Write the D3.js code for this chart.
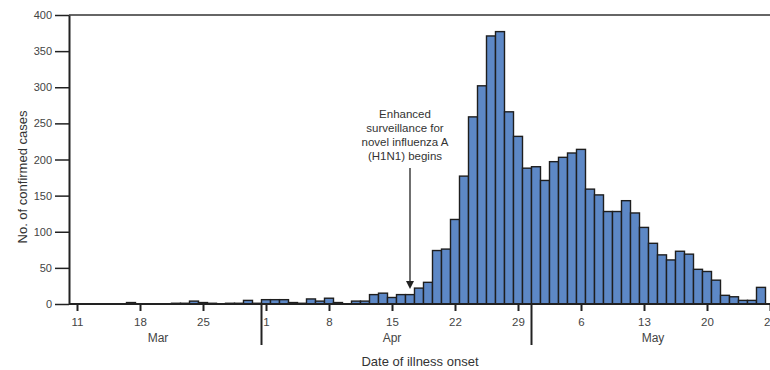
<!DOCTYPE html>
<html>
<head>
<meta charset="utf-8">
<script src="https://cdn.jsdelivr.net/npm/d3@7"></script>
<style>
  body { margin: 0; background: #fff; }
  svg { display: block; font-family: "Liberation Sans", Arial, Helvetica, sans-serif; }
</style>
</head>
<body>
<svg id="chart" width="770" height="370"></svg>
<script>
// confirmed cases by date of illness onset, 2009
const marchCases = [0, 0, 0, 0, 0, 0, 2, 0, 0, 0, 0, 1, 1, 4, 2, 1, 0, 1, 1, 5, 1]; // Mar 11-31
const aprilCases = [6, 6, 6, 2, 1, 7, 4, 8, 2, 0, 4, 4, 13, 15, 9, 13, 13, 22, 30, 74,
                    76, 117, 177, 259, 302, 371, 377, 266, 232, 188]; // Apr 1-30
const mayCases = [190, 171, 197, 203, 209, 214, 159, 151, 128, 128, 143, 126, 106, 84, 68,
                  61, 73, 69, 48, 45, 33, 12, 10, 5, 5, 23]; // May 1-26

const monthStarts = ['2009-03-11', '2009-04-01', '2009-05-01'];
const monthNames = ['Mar', 'Apr', 'May'];
const monthLabelDates = ['2009-03-20', '2009-04-15', '2009-05-14'];
const monthBreaks = ['2009-04-01', '2009-05-01'];
const xTickDates = ['2009-03-11', '2009-03-18', '2009-03-25', '2009-04-01', '2009-04-08', '2009-04-15',
                    '2009-04-22', '2009-04-29', '2009-05-06', '2009-05-13', '2009-05-20', '2009-05-27'];
const yTicks = [0, 50, 100, 150, 200, 250, 300, 350, 400];
const annotationLines = ['Enhanced', 'surveillance for', 'novel influenza A', '(H1N1) begins'];
const annotationDate = '2009-04-17';

const parse = d3.utcParse('%Y-%m-%d');
const data = [];
[marchCases, aprilCases, mayCases].forEach((vals, m) => {
  const start = parse(monthStarts[m]);
  vals.forEach((v, i) => data.push({ date: d3.utcDay.offset(start, i), value: v }));
});

const svg = d3.select('#chart');
const plotLeft = 69, plotTop = 15, plotBottom = 304, plotRight = 772;

const x = d3.scaleUtc()
  .domain([parse('2009-03-11'), parse('2009-05-28')])
  .range([72.5, 774.5]);
const y = d3.scaleLinear().domain([0, 400]).range([plotBottom, plotTop]);
const mid = d => d3.utcHour.offset(d, 12);

// bars
svg.append('g')
  .selectAll('rect')
  .data(data.filter(d => d.value > 0))
  .join('rect')
  .attr('x', d => x(d.date))
  .attr('width', d => x(d3.utcDay.offset(d.date, 1)) - x(d.date))
  .attr('y', d => y(d.value))
  .attr('height', d => y(0) - y(d.value))
  .attr('fill', '#5d88c6')
  .attr('stroke', '#1e1e1e')
  .attr('stroke-width', 1.4);

// frame lines
svg.append('line')
  .attr('x1', plotLeft).attr('x2', plotRight).attr('y1', plotTop).attr('y2', plotTop)
  .attr('stroke', '#333').attr('stroke-width', 1.5);
svg.append('line')
  .attr('x1', plotLeft).attr('x2', plotRight).attr('y1', plotBottom).attr('y2', plotBottom)
  .attr('stroke', '#222').attr('stroke-width', 2);

// y axis
const yAxis = svg.append('g')
  .attr('transform', `translate(${plotLeft},0)`)
  .call(d3.axisLeft(y).tickValues(yTicks).tickSize(14).tickSizeOuter(0).tickPadding(3));
yAxis.select('.domain').attr('stroke', '#222').attr('stroke-width', 2);
yAxis.selectAll('.tick line').attr('stroke', '#222').attr('stroke-width', 1.5);
yAxis.selectAll('.tick text').attr('fill', '#444').style('font-size', '11px');

// x axis
const xAxis = svg.append('g')
  .attr('transform', `translate(0,${plotBottom})`)
  .call(d3.axisBottom(x)
    .tickValues(xTickDates.map(s => mid(parse(s))))
    .tickFormat(d3.utcFormat('%-d'))
    .tickSize(7).tickPadding(7));
xAxis.select('.domain').remove();
xAxis.selectAll('.tick line').attr('stroke', '#222').attr('stroke-width', 2);
xAxis.selectAll('.tick text').attr('fill', '#444').style('font-size', '11.5px');

// month separators and labels
svg.append('g')
  .selectAll('line')
  .data(monthBreaks)
  .join('line')
  .attr('x1', d => x(parse(d))).attr('x2', d => x(parse(d)))
  .attr('y1', plotBottom).attr('y2', 345)
  .attr('stroke', '#222').attr('stroke-width', 2);

svg.append('g')
  .selectAll('text')
  .data(monthNames)
  .join('text')
  .attr('x', (d, i) => x(mid(parse(monthLabelDates[i]))))
  .attr('y', 342)
  .attr('text-anchor', 'middle')
  .attr('fill', '#444')
  .style('font-size', '12px')
  .text(d => d);

// axis titles
svg.append('text')
  .attr('x', 420).attr('y', 366)
  .attr('text-anchor', 'middle')
  .attr('fill', '#333')
  .style('font-size', '13px')
  .text('Date of illness onset');

svg.append('text')
  .attr('transform', 'translate(27,177) rotate(-90)')
  .attr('text-anchor', 'middle')
  .attr('fill', '#333')
  .style('font-size', '13px')
  .text('No. of confirmed cases');

// annotation
const ax = x(mid(parse(annotationDate)));
svg.append('g')
  .selectAll('text')
  .data(annotationLines)
  .join('text')
  .attr('x', 405)
  .attr('y', (d, i) => 118 + i * 14)
  .attr('text-anchor', 'middle')
  .attr('fill', '#333')
  .style('font-size', '11.5px')
  .text(d => d);

svg.append('line')
  .attr('x1', ax).attr('x2', ax).attr('y1', 168).attr('y2', 283)
  .attr('stroke', '#222').attr('stroke-width', 1.3);
svg.append('path')
  .attr('d', `M${ax - 4},281 L${ax + 4},281 L${ax},289 Z`)
  .attr('fill', '#222');
</script>
</body>
</html>
